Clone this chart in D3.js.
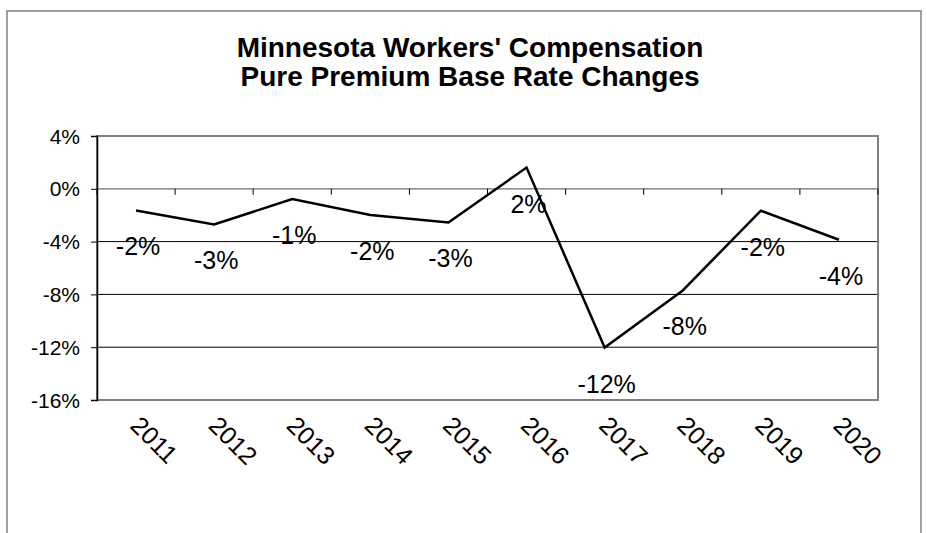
<!DOCTYPE html>
<html>
<head>
<meta charset="utf-8">
<script src="https://cdn.jsdelivr.net/npm/d3@7"></script>
<style>
  body { margin: 0; background: #fff; }
  text { font-family: "Liberation Sans", Arial, sans-serif; fill: #000; }
</style>
</head>
<body>
<svg id="chart" width="927" height="533"></svg>
<script>
// data
var years = ["2011", "2012", "2013", "2014", "2015", "2016", "2017", "2018", "2019", "2020"];
var changes = [-1.64, -2.7, -0.78, -1.99, -2.55, 1.61, -12.03, -7.7, -1.66, -3.86];
var yTicks = [4, 0, -4, -8, -12, -16];
var titleLines = ["Minnesota Workers' Compensation", "Pure Premium Base Rate Changes"];

var svg = d3.select("#chart"),
    width = +svg.attr("width"),
    height = +svg.attr("height");

// plot area
var pLeft = 97, pRight = 878, pTop = 136, pBottom = 400;

var x = d3.scaleBand().domain(years).range([pLeft, pRight]);
var y = d3.scaleLinear().domain([-16, 4]).range([pBottom, pTop]);

// percent with plain hyphen
var pct = function(v) { return Math.round(v) + "%"; };

// outer frame
svg.append("rect")
    .attr("x", 7).attr("y", 11)
    .attr("width", 914).attr("height", 600)
    .attr("fill", "none")
    .attr("stroke", "#808080")
    .attr("stroke-width", 1.5);

// title
svg.append("g").selectAll("text")
    .data(titleLines)
    .enter().append("text")
    .attr("x", 470)
    .attr("y", function(d, i) { return 57 + i * 29; })
    .attr("text-anchor", "middle")
    .attr("font-size", 28)
    .attr("font-weight", "bold")
    .text(function(d) { return d; });

// gridlines
svg.append("g").selectAll("line")
    .data([-4, -8, -12])
    .enter().append("line")
    .attr("x1", pLeft).attr("x2", pRight)
    .attr("y1", function(d) { return y(d); })
    .attr("y2", function(d) { return y(d); })
    .attr("stroke", "#000")
    .attr("stroke-width", 1);

// plot area border (gray)
svg.append("rect")
    .attr("x", pLeft).attr("y", pTop)
    .attr("width", pRight - pLeft).attr("height", pBottom - pTop)
    .attr("fill", "none")
    .attr("stroke", "#808080")
    .attr("stroke-width", 2);

// category axis at 0%
var xAxis = svg.append("g")
    .attr("transform", "translate(0," + y(0) + ")");
xAxis.append("line")
    .attr("x1", pLeft).attr("x2", pRight)
    .attr("stroke", "#6e6e6e").attr("stroke-width", 1.2);
xAxis.selectAll(".tk")
    .data(years.concat(["end"]))
    .enter().append("line")
    .attr("class", "tk")
    .attr("x1", function(d, i) { return pLeft + i * x.bandwidth(); })
    .attr("x2", function(d, i) { return pLeft + i * x.bandwidth(); })
    .attr("y1", 0).attr("y2", 6)
    .attr("stroke", "#000");

// year labels, rotated
svg.append("g").selectAll("text")
    .data(years)
    .enter().append("text")
    .attr("font-size", 25)
    .attr("transform", function(d) {
        return "translate(" + (x(d) + x.bandwidth() / 2 - 7) + ",427) rotate(45)";
    })
    .text(function(d) { return d; });

// value axis: line + ticks from d3.axisLeft, labels drawn separately
var yAxis = svg.append("g")
    .attr("transform", "translate(" + pLeft + ",0)")
    .call(d3.axisLeft(y).tickValues(yTicks).tickFormat("").tickSize(6));
yAxis.select(".domain").attr("stroke", "#000").attr("stroke-width", 1.5);

svg.append("g").selectAll("text")
    .data(yTicks)
    .enter().append("text")
    .attr("x", 80)
    .attr("y", function(d) { return y(d); })
    .attr("dy", "0.36em")
    .attr("text-anchor", "end")
    .style("font-size", "21px")
    .text(function(d) { return pct(d); });

// line
var line = d3.line()
    .x(function(d, i) { return x(years[i]) + x.bandwidth() / 2; })
    .y(function(d) { return y(d); });

svg.append("path")
    .datum(changes)
    .attr("d", line)
    .attr("fill", "none")
    .attr("stroke", "#000")
    .attr("stroke-width", 2.5);

// data labels below each point
svg.append("g").selectAll("text")
    .data(changes)
    .enter().append("text")
    .attr("x", function(d, i) { return x(years[i]) + x.bandwidth() / 2 + 2; })
    .attr("y", function(d) { return y(d) + 45; })
    .attr("text-anchor", "middle")
    .attr("font-size", 25)
    .text(function(d) { return pct(d); });
</script>
</body>
</html>
